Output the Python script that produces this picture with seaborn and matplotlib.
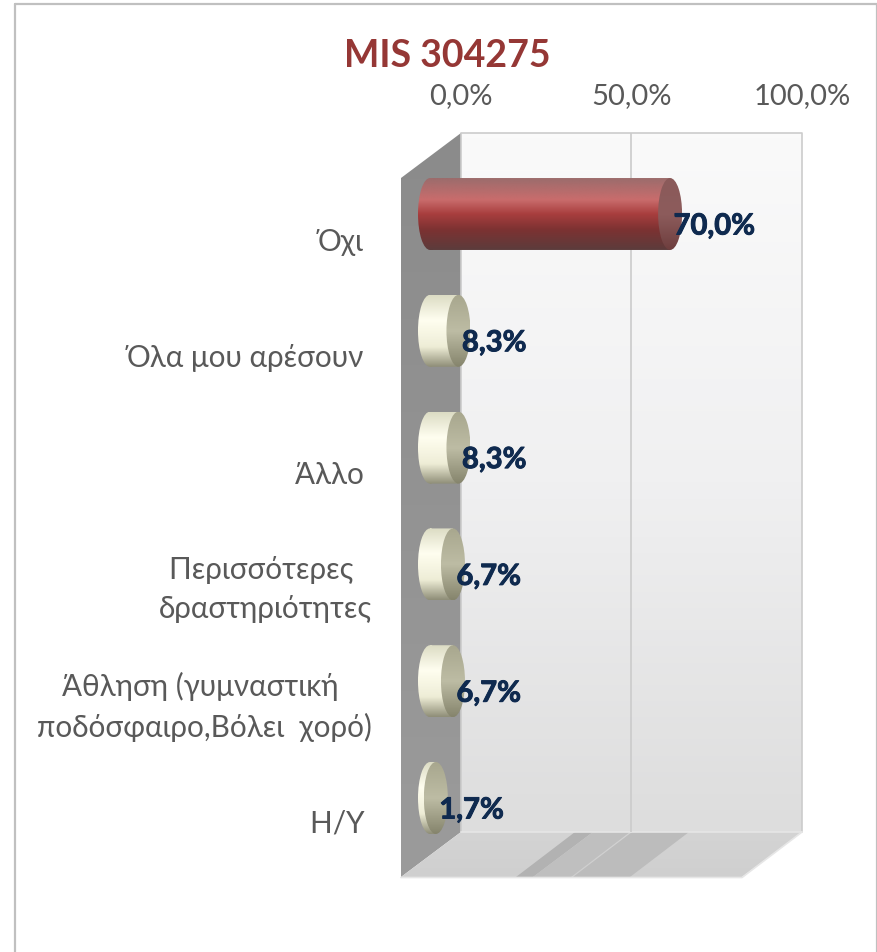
import numpy as np
import pandas as pd
import seaborn as sns
import matplotlib
matplotlib.use("Agg")
import matplotlib.pyplot as plt
import matplotlib.patheffects as pe
from matplotlib.patches import Ellipse, Polygon, Rectangle, PathPatch
from matplotlib.path import Path
from matplotlib.transforms import ScaledTranslation
from matplotlib.colors import to_rgb

categories = ["Όχι ", "Όλα μου αρέσουν ", "Άλλο ", "Περισσότερες \nδραστηριότητες",
              "Άθληση (γυμναστική \nποδόσφαιρο,Βόλει  χορό)", "Η/Υ "]
values = [70.0, 8.3, 8.3, 6.7, 6.7, 1.7]
labels = ["70,0%", "8,3%", "8,3%", "6,7%", "6,7%", "1,7%"]
axis_ticks = [0, 50, 100]
axis_ticklabels = ["0,0%", "50,0%", "100,0%"]
title = "MIS 304275"

W, H = 878, 952
sns.set_theme(style="white")
plt.rcParams["font.family"] = ["Lato", "Open Sans", "DejaVu Sans"]
GREY = "#595959"
NAVY = "#0f2a4f"

fig = plt.figure(figsize=(W / 100, H / 100), dpi=100, facecolor="white")


def px_axes(x0, x1, y0, y1, **kw):
    return fig.add_axes([x0 / W, 1 - y1 / H, (x1 - x0) / W, (y1 - y0) / H], **kw)


def vgrad(stops):
    ys = np.linspace(0, 1, 128)
    pos = [s[0] for s in stops]
    cols = np.array([to_rgb(s[1]) for s in stops])
    return np.stack([np.interp(ys, pos, cols[:, i]) for i in range(3)], axis=1)[:, None, :]


# Decorative 3D box in pixel coordinates
bg = px_axes(0, W, 0, H)
bg.set_xlim(0, W)
bg.set_ylim(H, 0)
bg.axis("off")
bg.plot([15.5, 15.5], [H, 4], color="#c0c0c0", lw=1.6)
bg.plot([15.5, 877], [4, 4], color="#c0c0c0", lw=1.6)
bg.plot([877, 877], [4, H], color="#c0c0c0", lw=1.6)


def grad_poly(pts, stops, z=1):
    poly = Polygon(pts, closed=True, transform=bg.transData, facecolor="none", edgecolor="none")
    bg.add_patch(poly)
    xs, ys = zip(*pts)
    im = bg.imshow(vgrad(stops), extent=(min(xs), max(xs), max(ys), min(ys)), aspect="auto", zorder=z)
    im.set_clip_path(poly)


grad_poly([(461, 133), (802, 133), (802, 832), (461, 832)],
          [(0, "#fafafa"), (0.5, "#f0f0f1"), (1, "#dddddd")])
grad_poly([(401, 178), (461, 133), (461, 832), (401, 877)],
          [(0, "#8b8b8b"), (1, "#9b9b9b")], z=2)
grad_poly([(401, 877), (461, 832), (802, 832), (742, 877)],
          [(0, "#d4d4d4"), (1, "#cfcfcf")], z=2)
bg.add_patch(Polygon([(516, 877), (575, 832), (593, 832), (533, 877)], facecolor="#b2b2b2", edgecolor="none", zorder=3))
bg.add_patch(Polygon([(533, 877), (593, 832), (630, 832), (571, 877)], facecolor="#bfbfbf", edgecolor="none", zorder=3))
bg.add_patch(Polygon([(573, 877), (632, 832), (689, 832), (630, 877)], facecolor="#bcbcbc", edgecolor="none", zorder=3))
bg.plot([461, 461, 802, 802], [832, 133, 133, 832], color="#cccccc", lw=1.2, zorder=4)
bg.plot([461, 802], [832, 832], color="#e6e6e6", lw=1.2, zorder=4)
bg.plot([401, 742, 802], [877.5, 877.5, 832], color="#e6e6e6", lw=1.2, zorder=4)
bg.set_xlim(0, W)
bg.set_ylim(H, 0)

# Value axis on the back wall
top = px_axes(461, 802, 133, 832)
top.patch.set_alpha(0)
top.set_xlim(0, 100)
top.set_yticks([])
top.set_xticks(axis_ticks)
top.set_xticklabels(axis_ticklabels, fontsize=21, color=GREY)
top.xaxis.tick_top()
top.tick_params(axis="x", length=0, pad=17)
top.axvline(50, color="#cbcbcb", lw=1.2)
for s in top.spines.values():
    s.set_visible(False)

# Bars
ax = px_axes(430, 773, 155.6, 856.4)
ax.patch.set_alpha(0)
df = pd.DataFrame({"category": categories, "value": values})
sns.barplot(data=df, y="category", x="value", orient="h", width=0.616,
            color="#c0504d", ax=ax, zorder=5)
ax.set_xlim(0, 100)
ax.set_ylim(5.5, -0.5)
ax.set_xlabel("")
ax.set_ylabel("")
ax.set_xticks([])
for s in ax.spines.values():
    s.set_visible(False)

rx = 12 * 100 / 343
RED_BODY = [(0, "#9c6c6c"), (0.3, "#c96c6c"), (0.5, "#a83e3e"), (0.72, "#7c3232"), (1, "#5c3c3c")]
RED_CAP = [(0, "#8a5a5a"), (0.5, "#8d5c5c"), (1, "#6e3e3e")]
CREAM_BODY = [(0, "#dcdcc4"), (0.35, "#fffef0"), (0.72, "#eeedd6"), (1, "#8f8e78")]
CREAM_CAP = [(0, "#a8a78e"), (0.5, "#bdbca4"), (1, "#85846c")]

for i, (patch, v) in enumerate(zip(ax.patches, values)):
    patch.set_visible(False)
    yc = patch.get_y() + patch.get_height() / 2
    h = patch.get_height()
    w = patch.get_width()
    body, cap = (RED_BODY, RED_CAP) if i == 0 else (CREAM_BODY, CREAM_CAP)
    # Rounded left end + straight side
    e0 = Ellipse((0, yc), 2 * rx, h)
    r0 = Rectangle((0, yc - h / 2), w, h)
    path = Path.make_compound_path(
        e0.get_patch_transform().transform_path(e0.get_path()),
        r0.get_patch_transform().transform_path(r0.get_path()))
    clip = PathPatch(path, transform=ax.transData, facecolor="none", edgecolor="none")
    ax.add_patch(clip)
    clip.set_clip_on(False)
    im = ax.imshow(vgrad(body), extent=(-rx, w, yc + h / 2, yc - h / 2), aspect="auto", zorder=5)
    im.set_clip_box(fig.bbox)
    im.set_clip_path(clip)
    capclip = Ellipse((w, yc), 2 * rx, h, transform=ax.transData, facecolor="none", edgecolor="none")
    ax.add_patch(capclip)
    capclip.set_clip_on(False)
    im2 = ax.imshow(vgrad(cap), extent=(w - rx, w + rx, yc + h / 2, yc - h / 2), aspect="auto", zorder=6)
    im2.set_clip_box(fig.bbox)
    im2.set_clip_path(capclip)
    t = ax.annotate(labels[i], (w, yc), xytext=(2.5, -9), textcoords="offset points",
                    ha="left", va="center", fontsize=21, fontweight="bold", color=NAVY, zorder=10,
                    annotation_clip=False)
    t.set_path_effects([pe.withStroke(linewidth=0.7, foreground=NAVY)])

ax.set_xlim(0, 100)
ax.set_ylim(5.5, -0.5)

# Category labels
ax.tick_params(axis="y", length=0, pad=42)
offset = [25, 25, 25, 17, 17, 23]
for lab, d in zip(ax.get_yticklabels(), offset):
    lab.set_fontsize(21.3)
    lab.set_color(GREY)
    lab.set_multialignment("center")
    lab.set_linespacing(1.5)
    lab.set_transform(lab.get_transform() + ScaledTranslation(0, -d / 100, fig.dpi_scale_trans))

fig.text(447 / W, 1 - 56 / H, title, ha="center", va="center", fontsize=27,
         fontweight="bold", color="#953735")

fig.savefig("out.png", dpi=100)
